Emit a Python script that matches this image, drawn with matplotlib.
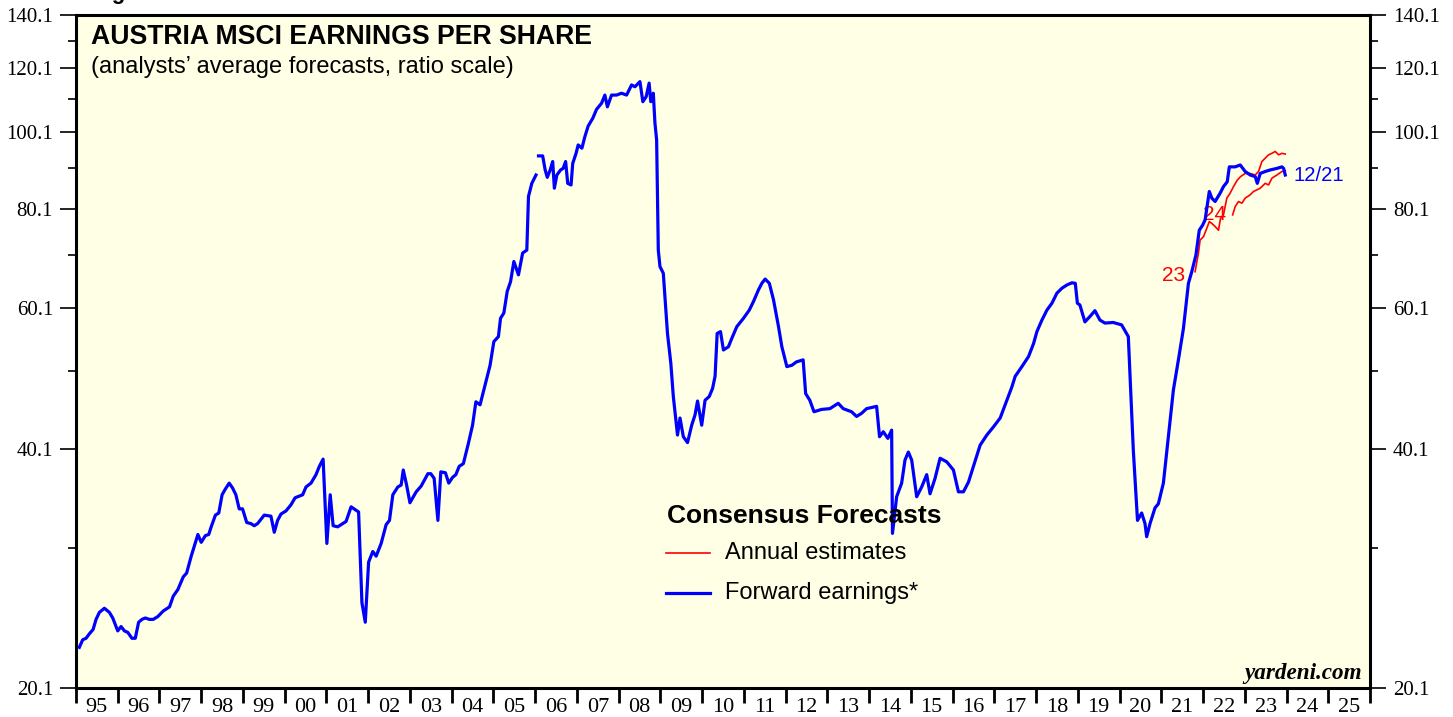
import numpy as np
import matplotlib
matplotlib.use("Agg")
import matplotlib.pyplot as plt
from matplotlib.ticker import FixedLocator, NullFormatter, FixedFormatter

# ---------------- data (decimal year, EPS) ----------------
fwd_year = [1995.08, 1995.16, 1995.24, 1995.32, 1995.41, 1995.48, 1995.56, 1995.68, 1995.80, 1995.88,
            1996.00, 1996.08, 1996.16, 1996.24, 1996.34, 1996.42, 1996.50, 1996.58, 1996.66, 1996.76,
            1996.85, 1996.96, 1997.09, 1997.24, 1997.33, 1997.44, 1997.57, 1997.65, 1997.76, 1997.92,
            1998.00, 1998.10, 1998.18, 1998.23, 1998.34, 1998.42, 1998.50, 1998.58, 1998.67, 1998.75,
            1998.83, 1998.91, 1998.99, 1999.09, 1999.19, 1999.27, 1999.35, 1999.51, 1999.67, 1999.75,
            1999.83, 1999.91, 2000.03, 2000.15, 2000.25, 2000.43, 2000.51, 2000.63, 2000.75, 2000.83,
            2000.92, 2001.01, 2001.09, 2001.16, 2001.27, 2001.39, 2001.47, 2001.59, 2001.77, 2001.85,
            2001.93, 2002.01, 2002.11, 2002.19, 2002.31, 2002.43, 2002.51, 2002.59, 2002.71, 2002.79,
            2002.84, 2002.92, 2003.00, 2003.15, 2003.27, 2003.43, 2003.50, 2003.58, 2003.67, 2003.74,
            2003.85, 2003.93, 2004.02, 2004.10, 2004.18, 2004.28, 2004.40, 2004.50, 2004.58, 2004.68,
            2004.80, 2004.92, 2005.01, 2005.12, 2005.17, 2005.25, 2005.33, 2005.41, 2005.49, 2005.60,
            2005.70, 2005.80, 2005.84, 2005.92, 2006.02, 2006.05, 2006.08, 2006.18, 2006.24, 2006.29,
            2006.36, 2006.42, 2006.46, 2006.52, 2006.61, 2006.67, 2006.73, 2006.78, 2006.86, 2006.90,
            2006.98, 2007.03, 2007.12, 2007.19, 2007.27, 2007.38, 2007.47, 2007.59, 2007.67, 2007.73,
            2007.83, 2007.95, 2008.07, 2008.19, 2008.31, 2008.39, 2008.51, 2008.58, 2008.66, 2008.73,
            2008.77, 2008.83, 2008.87, 2008.91, 2008.95, 2008.99, 2009.07, 2009.17, 2009.25, 2009.31,
            2009.41, 2009.47, 2009.55, 2009.65, 2009.75, 2009.83, 2009.89, 2009.99, 2010.07, 2010.17,
            2010.25, 2010.31, 2010.36, 2010.44, 2010.51, 2010.63, 2010.71, 2010.83, 2010.99, 2011.13,
            2011.23, 2011.35, 2011.43, 2011.51, 2011.61, 2011.71, 2011.83, 2011.91, 2012.03, 2012.15,
            2012.26, 2012.42, 2012.48, 2012.58, 2012.68, 2012.86, 2013.06, 2013.26, 2013.38, 2013.58,
            2013.70, 2013.82, 2013.94, 2014.18, 2014.25, 2014.34, 2014.45, 2014.54, 2014.56, 2014.66,
            2014.78, 2014.86, 2014.94, 2015.02, 2015.14, 2015.26, 2015.38, 2015.46, 2015.58, 2015.70,
            2015.86, 2016.02, 2016.14, 2016.26, 2016.38, 2016.50, 2016.66, 2016.82, 2016.98, 2017.14,
            2017.26, 2017.42, 2017.50, 2017.66, 2017.82, 2017.94, 2018.02, 2018.14, 2018.26, 2018.38,
            2018.50, 2018.62, 2018.74, 2018.86, 2018.94, 2018.99, 2019.05, 2019.17, 2019.29, 2019.41,
            2019.53, 2019.65, 2019.85, 2020.05, 2020.21, 2020.33, 2020.43, 2020.53, 2020.61, 2020.65,
            2020.73, 2020.85, 2020.93, 2021.05, 2021.17, 2021.29, 2021.41, 2021.53, 2021.65, 2021.73,
            2021.83, 2021.91, 2021.99, 2022.05, 2022.15, 2022.21, 2022.29, 2022.41, 2022.49, 2022.58,
            2022.63, 2022.77, 2022.89, 2023.01, 2023.13, 2023.25, 2023.30, 2023.37, 2023.49, 2023.61,
            2023.77, 2023.89, 2023.93, 2023.97]
fwd_eps = [22.6, 23.1, 23.2, 23.5, 23.8, 24.5, 25.0, 25.3, 25.0, 24.6,
           23.7, 24.0, 23.7, 23.6, 23.2, 23.2, 24.3, 24.5, 24.6, 24.5,
           24.5, 24.7, 25.1, 25.4, 26.2, 26.7, 27.7, 28.0, 29.4, 31.3,
           30.6, 31.2, 31.3, 31.9, 33.1, 33.3, 35.1, 35.7, 36.3, 35.8,
           35.1, 33.7, 33.7, 32.4, 32.3, 32.1, 32.3, 33.1, 33.0, 31.5,
           32.6, 33.2, 33.5, 34.1, 34.8, 35.1, 35.9, 36.3, 37.2, 38.1,
           38.9, 30.5, 35.1, 32.1, 32.0, 32.3, 32.5, 33.9, 33.4, 25.7,
           24.3, 28.9, 29.8, 29.4, 30.5, 32.2, 32.6, 35.1, 35.9, 36.1,
           37.7, 36.1, 34.3, 35.4, 36.0, 37.3, 37.3, 36.8, 32.6, 37.5,
           37.4, 36.3, 36.9, 37.2, 38.1, 38.4, 40.7, 42.9, 45.9, 45.5,
           48.2, 51.0, 54.6, 55.4, 58.4, 59.3, 63.1, 64.9, 68.8, 66.2,
           70.5, 71.1, 83.0, 86.2, 88.3, np.nan, 93.3, 93.3, 89.6, 87.7,
           89.6, 91.8, 85.0, 88.3, 89.6, 90.0, 91.8, 86.2, 85.8, 91.3,
           94.0, 96.3, 95.4, 98.6, 101.7, 104.0, 106.7, 108.6, 111.2, 107.5,
           111.2, 111.2, 111.8, 111.2, 114.5, 113.9, 115.6, 109.1, 110.7, 115.1,
           109.1, 111.8, 102.5, 97.7, 71.1, 67.8, 66.5, 55.9, 51.3, 46.6,
           41.7, 43.8, 41.5, 40.8, 42.9, 44.2, 46.0, 42.9, 46.1, 46.6,
           47.7, 49.4, 55.9, 56.2, 53.3, 53.8, 55.1, 57.0, 58.4, 59.8,
           61.3, 63.4, 64.6, 65.4, 64.6, 61.6, 57.0, 53.8, 50.8, 51.0,
           51.5, 51.8, 47.0, 46.1, 44.6, 44.9, 45.0, 45.7, 45.0, 44.6,
           44.0, 44.4, 45.0, 45.3, 41.5, 42.1, 41.3, 42.3, 31.4, 34.9,
           36.3, 38.8, 39.7, 38.8, 34.9, 35.9, 37.2, 35.2, 36.8, 39.0,
           38.6, 37.7, 35.4, 35.4, 36.4, 38.1, 40.5, 41.7, 42.7, 43.8,
           45.5, 47.9, 49.4, 50.8, 52.3, 54.3, 56.2, 58.1, 59.8, 61.0,
           62.8, 63.7, 64.3, 64.7, 64.6, 61.0, 60.7, 57.8, 58.7, 59.7,
           58.1, 57.6, 57.7, 57.3, 55.4, 39.9, 32.6, 33.3, 32.3, 31.1,
           32.3, 33.8, 34.2, 36.3, 41.5, 47.5, 51.8, 56.7, 64.6, 66.8,
           70.1, 75.3, 76.4, 77.6, 84.2, 82.6, 81.8, 83.8, 85.4, 86.6,
           90.4, 90.4, 90.9, 89.2, 88.3, 87.9, 86.2, 88.7, 89.2, 89.6,
           90.0, 90.4, 90.0, 88.3]

est23_year = [2021.81, 2021.89, 2021.93, 2022.01, 2022.09, 2022.15, 2022.21, 2022.29, 2022.37, 2022.42,
              2022.49, 2022.57, 2022.65, 2022.73, 2022.82, 2022.90, 2023.01, 2023.13, 2023.25, 2023.33,
              2023.41, 2023.49, 2023.57, 2023.65, 2023.73, 2023.81, 2023.89, 2023.97]
est23_eps = [66.8, 70.5, 73.2, 73.9, 75.7, 77.2, 76.8, 76.1, 75.3, 77.9,
             78.7, 82.6, 83.8, 85.4, 87.0, 87.9, 88.7, 88.7, 88.3, 89.2,
             91.8, 92.7, 93.6, 94.0, 94.5, 93.6, 94.0, 93.8]

est24_year = [2022.71, 2022.77, 2022.85, 2022.93, 2023.01, 2023.13, 2023.21, 2023.29, 2023.37, 2023.49,
              2023.57, 2023.65, 2023.77, 2023.89, 2023.97]
est24_eps = [78.7, 80.6, 81.8, 81.4, 82.6, 83.4, 84.2, 84.6, 85.0, 86.2,
             85.8, 87.5, 88.3, 89.2, 89.4]

year_labels = ["95", "96", "97", "98", "99", "00", "01", "02", "03", "04", "05", "06", "07", "08",
               "09", "10", "11", "12", "13", "14", "15", "16", "17", "18", "19", "20", "21", "22",
               "23", "24", "25"]
y_major = [20.1, 40.1, 60.1, 80.1, 100.1, 120.1, 140.1]
y_minor = [30.1, 50.1, 70.1, 90.1, 110.1, 130.1]

# ---------------- figure ----------------
W, H = 1453, 717
fig = plt.figure(figsize=(W / 100, H / 100), dpi=100)
fig.patch.set_facecolor("white")
ax = fig.add_axes([76 / W, 1 - 688 / H, (1370 - 76) / W, (688 - 15) / H])
ax.set_facecolor("#FFFFE6")

BLUE = "#0000FF"
RED = "#FF0000"

ax.plot(est23_year, est23_eps, color=RED, lw=1.2, zorder=3)
ax.plot(est24_year, est24_eps, color=RED, lw=1.2, zorder=3)
ax.plot(fwd_year, fwd_eps, color=BLUE, lw=2.3, zorder=4, solid_joinstyle="round")

ax.set_yscale("log")
ax.set_ylim(20.1, 140.1)
ax.set_xlim(1995, 2026)

serif = "Liberation Serif"
sans = "Liberation Sans"

ax.yaxis.set_major_locator(FixedLocator(y_major))
ax.yaxis.set_major_formatter(FixedFormatter([f"{v:.1f}" for v in y_major]))
ax.yaxis.set_minor_locator(FixedLocator(y_minor))
ax.yaxis.set_minor_formatter(NullFormatter())
ax.tick_params(axis="y", which="major", direction="out", length=11.5, width=1.2,
               left=True, right=True, labelleft=True, labelright=True, pad=5, labelsize=15)
ax.tick_params(axis="y", which="minor", direction="out", length=5.8, width=1.2,
               left=True, right=True)

first_year = 1995
ax.xaxis.set_major_locator(FixedLocator(list(range(first_year, first_year + len(year_labels) + 1))))
ax.xaxis.set_major_formatter(NullFormatter())
ax.xaxis.set_minor_locator(FixedLocator([first_year + i + 0.5 for i in range(len(year_labels))]))
ax.xaxis.set_minor_formatter(FixedFormatter(year_labels))
ax.tick_params(axis="x", which="major", direction="out", length=11, width=2, top=False)
ax.tick_params(axis="x", which="minor", length=0, pad=7, labelsize=16, top=False)

for lab in ax.get_yticklabels() + ax.get_xticklabels(minor=True):
    lab.set_fontfamily(serif)

for sp in ax.spines.values():
    sp.set_linewidth(2.2)
    sp.set_color("black")

# ---------------- texts ----------------
fig.text(91 / W, 1 - 37 / H, "AUSTRIA MSCI EARNINGS PER SHARE", fontsize=19.2,
         fontweight="bold", family=sans, va="center", ha="left")
fig.text(91 / W, 1 - 67 / H, "(analysts\u2019 average forecasts, ratio scale)", fontsize=17,
         family=sans, va="center", ha="left")
fig.text(92 / W, 1 + 1 / H, "Figure 1.", fontsize=16, fontweight="bold", family=sans,
         va="baseline", ha="left")

fig.text(667 / W, 1 - 516 / H, "Consensus Forecasts", fontsize=19, fontweight="bold",
         family=sans, va="center", ha="left")
fig.add_artist(plt.Line2D([666 / W, 710 / W], [1 - 553 / H, 1 - 553 / H], color=RED, lw=1.2))
fig.text(725 / W, 1 - 553 / H, "Annual estimates", fontsize=17, family=sans, va="center", ha="left")
fig.add_artist(plt.Line2D([666 / W, 710 / W], [1 - 593 / H, 1 - 593 / H], color=BLUE, lw=2.3))
fig.text(725 / W, 1 - 593 / H, "Forward earnings*", fontsize=17, family=sans, va="center", ha="left")

fig.text(1362 / W, 1 - 674 / H, "yardeni.com", fontsize=16.7, fontweight="bold", style="italic",
         family=serif, va="center", ha="right")

ax.annotate("12/21", xy=(fwd_year[-1], fwd_eps[-1]), xytext=(6, 0), textcoords="offset points",
            color=BLUE, fontsize=14.6, family=sans, va="center", ha="left")
ax.annotate("23", xy=(est23_year[0], est23_eps[0]), xytext=(-7, -3), textcoords="offset points",
            color=RED, fontsize=15, family=sans, va="center", ha="right")
ax.annotate("24", xy=(est24_year[0], est24_eps[0]), xytext=(-5, 0), textcoords="offset points",
            color=RED, fontsize=15, family=sans, va="center", ha="right")

fig.savefig("out.png", dpi=100)
